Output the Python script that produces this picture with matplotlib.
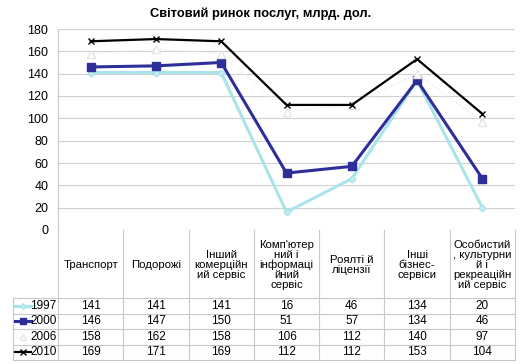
import numpy as np
import matplotlib
matplotlib.use('Agg')
import matplotlib.pyplot as plt
from matplotlib.transforms import blended_transform_factory
from matplotlib.lines import Line2D

plt.rcParams['font.family'] = ['Liberation Sans', 'DejaVu Sans']

categories = ['Транспорт', 'Подорожі', 'Інший\nкомерційн\nий сервіс',
              "Комп'ютер\nний і\nінформаці\nйний\nсервіс", 'Роялті й\nліцензії',
              'Інші\nбізнес-\nсервіси', 'Особистий\n, культурни\nй і\nрекреаційн\nий сервіс']
years = ['1997', '2000', '2006', '2010']
v1997 = [141, 141, 141, 16, 46, 134, 20]
v2000 = [146, 147, 150, 51, 57, 134, 46]
v2006 = [158, 162, 158, 106, 112, 140, 97]
v2010 = [169, 171, 169, 112, 112, 153, 104]
series = [v1997, v2000, v2006, v2010]

styles = [
    dict(color='#a8e4ea', lw=2.2, marker='D', ms=3.5, mfc='#c8eef2', mec='#a8e4ea'),
    dict(color='#2e2e9a', lw=2.2, marker='s', ms=5.5, mfc='#2e2e9a', mec='#2e2e9a'),
    dict(color='#ececec', lw=1.0, ls=':', marker='^', ms=5.5, mfc='white', mec='#e6e6e6'),
    dict(color='black', lw=1.6, marker='x', ms=5, mew=1.0),
]

W, H = 524, 364
fig = plt.figure(figsize=(W / 100, H / 100), dpi=100)
left, right, top, bottom = 58, 515, 29, 230
ax = fig.add_axes([left / W, 1 - bottom / H, (right - left) / W, (bottom - top) / H])

x = np.arange(len(categories))
for vals, st in zip(series, styles):
    ax.plot(x, vals, clip_on=False, zorder=3, **st)

ax.set_xlim(-0.5, len(categories) - 0.5)
ax.set_ylim(0, 180)
ax.set_yticks(range(0, 181, 20))
ax.yaxis.grid(True, color='#d0d0d0', lw=0.8)
ax.set_axisbelow(True)
ax.set_xticks([])
for s in ['top', 'right', 'bottom']:
    ax.spines[s].set_visible(False)
ax.spines['left'].set_color('#c8c8c8')
ax.tick_params(axis='y', length=0, labelsize=9, pad=7)

fig.text(261 / W, 1 - 14 / H, 'Світовий ринок послуг, млрд. дол.',
         ha='center', va='center', fontsize=9.3, fontweight='bold')

# data table under the plot
tr = blended_transform_factory(ax.transData, fig.transFigure)
def fy(py):
    return 1 - py / H

line_kw = dict(color='#c8c8c8', lw=0.8, transform=tr, clip_on=False)
head_top, head_bot, row_h = 230, 298, 15.5
tab_bot = head_bot + row_h * len(years)
leg_left = -0.5 - (left - 13) / ((right - left) / len(categories))

for i in range(len(categories) + 1):
    xb = i - 0.5
    fig.add_artist(Line2D([xb, xb], [fy(head_top), fy(tab_bot)], **line_kw))
fig.add_artist(Line2D([leg_left, leg_left], [fy(head_bot), fy(tab_bot)], **line_kw))
for r in range(len(years) + 1):
    yy = head_bot + r * row_h
    fig.add_artist(Line2D([leg_left, len(categories) - 0.5], [fy(yy), fy(yy)], **line_kw))

for i, c in enumerate(categories):
    fig.text(i, fy((head_top + head_bot) / 2 + 1), c, transform=tr, ha='center',
             va='center', fontsize=8.2, linespacing=1.0)

for r, (yr, vals, st) in enumerate(zip(years, series, styles)):
    yc = fy(head_bot + (r + 0.5) * row_h)
    for i, v in enumerate(vals):
        fig.text(i, yc, str(v), transform=tr, ha='center', va='center', fontsize=8.5)
    fig.text(-0.52, yc, yr, transform=tr, ha='right', va='center', fontsize=8.5)
    lx0 = leg_left + 0.03
    lx1 = leg_left + 0.27
    mk = {k: v for k, v in st.items() if k not in ('ms', 'marker')}
    fig.add_artist(Line2D([lx0, lx1], [yc, yc], transform=tr, clip_on=False, **mk))
    fig.add_artist(Line2D([(lx0 + lx1) / 2], [yc], transform=tr, clip_on=False,
                          marker=st['marker'], ms=st['ms'] * 0.8, color=st['color'],
                          mfc=st.get('mfc', st['color']), mec=st.get('mec', st['color']), lw=0))

fig.savefig('out.png', dpi=100)
